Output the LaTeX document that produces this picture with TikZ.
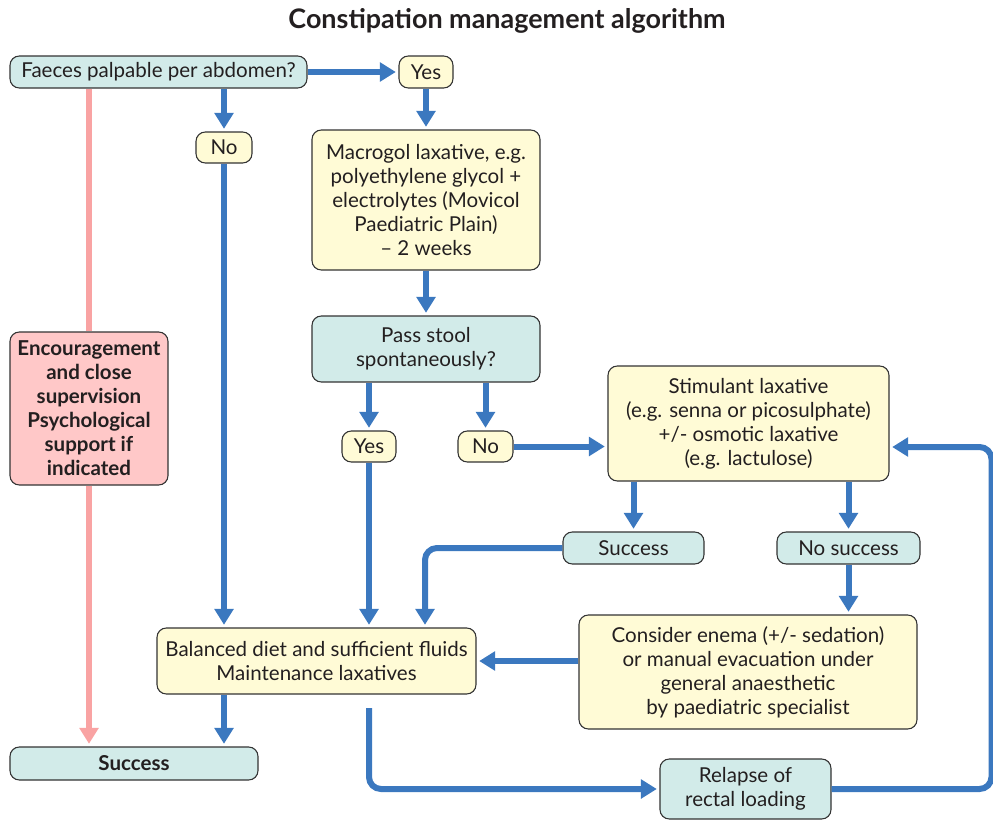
\documentclass[tikz,border=0pt]{standalone}
\usepackage{fontspec}
\setmainfont{Lato}
\usetikzlibrary{arrows.meta}
\definecolor{flowblue}{HTML}{3B78BF}
\definecolor{flowpink}{HTML}{F9A3A3}
\definecolor{qfill}{HTML}{D2EBE9}
\definecolor{afill}{HTML}{FFFBD6}
\definecolor{pfill}{HTML}{FFC8C8}
\definecolor{edge}{HTML}{333333}
\definecolor{ink}{HTML}{231F20}
\begin{document}
\begin{tikzpicture}[x=0.75pt,y=-0.75pt,
 box/.style={draw=edge,line width=0.8pt,rounded corners=7pt,align=center,inner sep=0pt,
   font=\fontsize{15.4}{18}\selectfont,text=ink},
 query/.style={box,fill=qfill},
 act/.style={box,fill=afill},
 warn/.style={box,fill=pfill,font=\bfseries\fontsize{15.4}{18}\selectfont},
 flow/.style={draw=flowblue,line width=4.5pt,-{Triangle[length=12pt,width=14pt]},
   shorten >=2pt,rounded corners=9pt},
 softline/.style={draw=flowpink,line width=4.5pt},
 soft/.style={softline,-{Triangle[length=12pt,width=14pt]},shorten >=2pt}]
\useasboundingbox (0,0) rectangle (993,821);
\node[font=\bfseries\fontsize{20.2}{22}\selectfont,text=ink] (title) at (507,21) {Constipation management algorithm};
% questions and steps
\node[query,minimum width=222.75pt,minimum height=24pt] (faeces) at (158.5,72) {Faeces palpable per abdomen?};
\node[act,minimum width=40.5pt,minimum height=24pt] (yesA) at (426,72) {Yes};
\node[act,minimum width=42pt,minimum height=23.25pt] (noA) at (224,147.5) {No};
\node[act,minimum width=171pt,minimum height=105pt] (macro) at (426,200)
  {Macrogol laxative, e.g.\\polyethylene glycol +\\electrolytes (Movicol\\Paediatric Plain)\\– 2 weeks};
\node[query,minimum width=171pt,minimum height=49.5pt] (pass) at (426,349) {Pass stool\\spontaneously?};
\node[act,minimum width=40.5pt,minimum height=23.25pt] (yesB) at (369,446.5) {Yes};
\node[act,minimum width=41.25pt,minimum height=23.25pt] (noB) at (485.5,446.5) {No};
\node[act,minimum width=210.75pt,minimum height=86.25pt] (stim) at (748.5,423.5)
  {Stimulant laxative\\(e.g. senna or picosulphate)\\+/- osmotic laxative\\(e.g. lactulose)};
\node[query,minimum width=105.75pt,minimum height=24pt] (succA) at (633.5,548) {Success};
\node[query,minimum width=107.25pt,minimum height=24pt] (nosucc) at (848.5,548) {No success};
\node[act,minimum width=239.25pt,minimum height=49.5pt] (diet) at (316.5,661)
  {Balanced diet and sufficient fluids\\Maintenance laxatives};
\node[act,minimum width=253.5pt,minimum height=85.5pt] (enema) at (748,672)
  {Consider enema (+/- sedation)\\or manual evacuation under\\general anaesthetic\\by paediatric specialist};
\node[query,minimum width=186pt,minimum height=24.75pt,font=\bfseries\fontsize{15.4}{18}\selectfont] (succB) at (134,763.5) {Success};
\node[query,minimum width=128.25pt,minimum height=45pt] (relapse) at (745.5,789) {Relapse of\\rectal loading};
\node[warn,minimum width=118.5pt,minimum height=114.75pt] (enc) at (89,408.5)
  {Encouragement\\and close\\supervision\\Psychological\\support if\\indicated};
% pink path
\draw[softline] (faeces.south -| enc) -- (enc.north);
\draw[soft] (enc.south) -- (enc.south |- succB.north);
% blue paths
\coordinate (bend) at (425,548);
\coordinate (drop) at (369,708);
\coordinate (rim) at (991.5,447);
\draw[flow] (faeces) -- (yesA);
\draw[flow] (faeces.south -| noA) -- (noA);
\draw[flow] (yesA) -- (macro);
\draw[flow] (noA) -- (noA |- diet.north);
\draw[flow] (macro) -- (pass);
\draw[flow] (pass.south -| yesB) -- (yesB);
\draw[flow] (pass.south -| noB) -- (noB);
\draw[flow] (yesB) -- (yesB |- diet.north);
\draw[flow] (noB) -- (noB -| stim.west);
\draw[flow] (stim.south -| succA) -- (succA);
\draw[flow] (stim.south -| nosucc) -- (nosucc);
\draw[flow] (succA.west) -- (bend) -- (bend |- diet.north);
\draw[flow] (nosucc) -- (nosucc |- enema.north);
\draw[flow] (enema.west |- diet) -- (diet.east);
\draw[flow] (diet.south -| noA) -- (noA |- succB.north);
\draw[flow] (drop) |- (relapse.west);
\draw[flow] (relapse.east) -| (rim) -- (rim -| stim.east);
\end{tikzpicture}
\end{document}
